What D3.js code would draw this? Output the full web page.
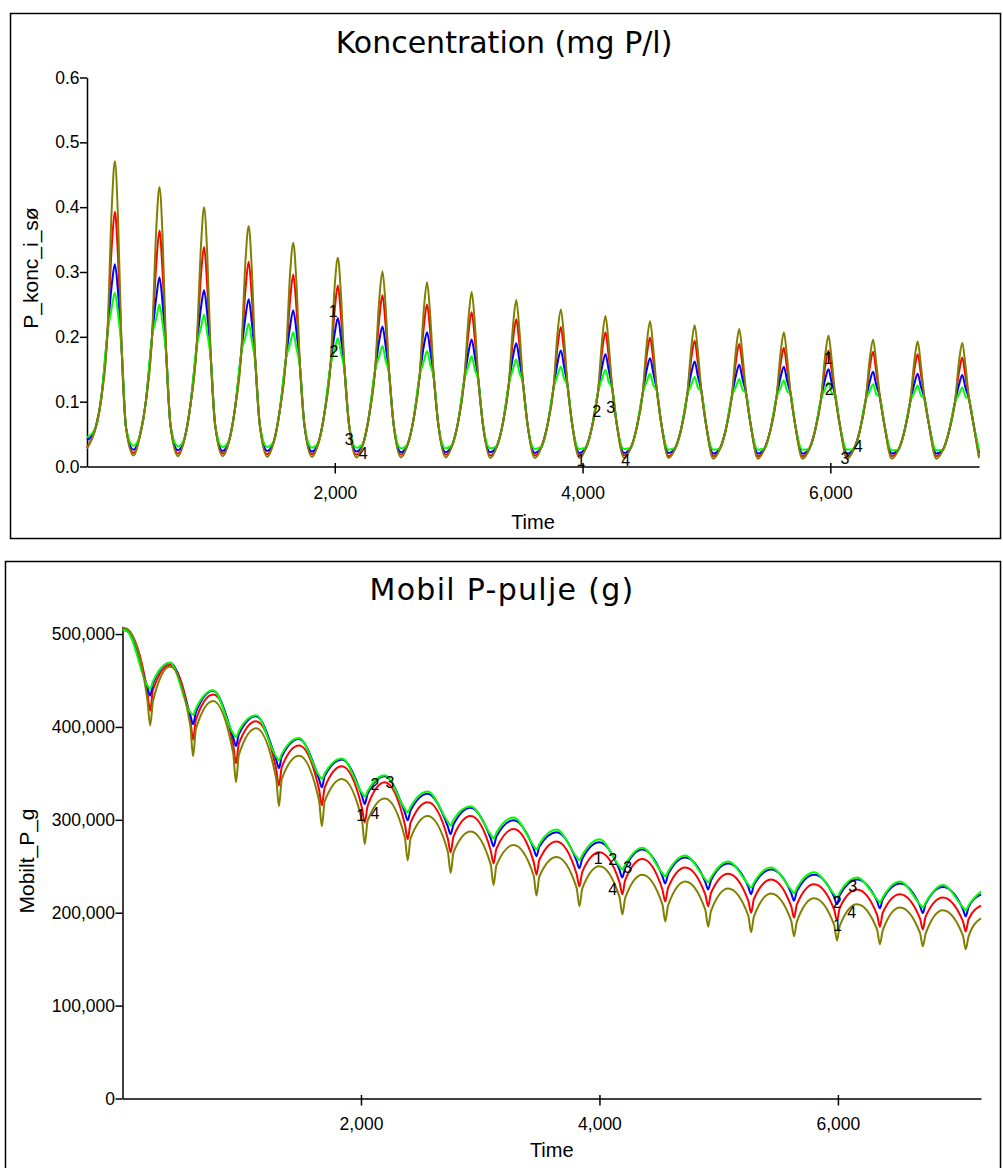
<!DOCTYPE html>
<html>
<head>
<meta charset="utf-8">
<script src="https://cdn.jsdelivr.net/npm/d3@7"></script>
<style>
  body { margin: 0; background: #fff; }
  text { font-family: "Liberation Sans", Arial, sans-serif; }
</style>
</head>
<body>
<svg width="1003" height="1168"></svg>
<script>
var svg = d3.select('svg');

var seriesColors = ['#ff0000', '#0000ff', '#00ff00', '#808000'];
var seriesNames = ['1', '2', '3', '4'];
var years = d3.range(20);   // simulation runs 20 years of 360 days

// ---------- Koncentration (mg P/l) ----------
// troughs: t=0, then early in each year, then t=7200
var concTrough1 = [0.030, 0.021, 0.020, 0.020, 0.019, 0.019, 0.018, 0.018, 0.018, 0.017, 0.017, 0.017, 0.017, 0.016, 0.016, 0.016, 0.016, 0.016, 0.016, 0.016, 0.016];
var concTrough2 = [0.040, 0.026, 0.025, 0.024, 0.024, 0.023, 0.023, 0.022, 0.022, 0.022, 0.021, 0.021, 0.021, 0.021, 0.020, 0.020, 0.020, 0.020, 0.020, 0.020, 0.021];
var concTrough3 = [0.045, 0.032, 0.031, 0.030, 0.030, 0.029, 0.029, 0.028, 0.028, 0.028, 0.027, 0.027, 0.027, 0.026, 0.026, 0.026, 0.026, 0.026, 0.025, 0.025, 0.026];
var concTrough4 = [0.028, 0.017, 0.016, 0.016, 0.015, 0.015, 0.014, 0.014, 0.014, 0.013, 0.013, 0.013, 0.013, 0.013, 0.012, 0.012, 0.012, 0.012, 0.012, 0.012, 0.013];

// flanks where the four runs lie on top of each other
var concRise70  = [0.060, 0.050, 0.045, 0.042, 0.040, 0.038, 0.036, 0.035, 0.034, 0.032, 0.031, 0.030, 0.029, 0.029, 0.028, 0.028, 0.027, 0.027, 0.026, 0.026];
var concRise115 = [0.105, 0.100, 0.095, 0.090, 0.085, 0.080, 0.076, 0.072, 0.068, 0.065, 0.062, 0.060, 0.058, 0.057, 0.056, 0.055, 0.054, 0.053, 0.052, 0.052];
var concRise165 = [0.205, 0.200, 0.185, 0.175, 0.165, 0.155, 0.148, 0.140, 0.133, 0.127, 0.120, 0.115, 0.112, 0.110, 0.108, 0.106, 0.104, 0.102, 0.100, 0.098];
var concFall280 = [0.180, 0.172, 0.165, 0.158, 0.152, 0.146, 0.141, 0.136, 0.131, 0.127, 0.123, 0.120, 0.117, 0.115, 0.113, 0.111, 0.109, 0.107, 0.105, 0.104];
var concFall315 = [0.060, 0.062, 0.063, 0.064, 0.064, 0.065, 0.065, 0.066, 0.066, 0.066, 0.067, 0.067, 0.067, 0.067, 0.067, 0.066, 0.066, 0.066, 0.066, 0.066];

// around the yearly peak
var concPre1  = [0.340, 0.315, 0.295, 0.275, 0.258, 0.243, 0.230, 0.218, 0.208, 0.198, 0.188, 0.181, 0.174, 0.170, 0.165, 0.160, 0.157, 0.155, 0.151, 0.147];
var concPeak1 = [0.393, 0.364, 0.339, 0.316, 0.296, 0.279, 0.264, 0.250, 0.238, 0.227, 0.215, 0.207, 0.199, 0.194, 0.189, 0.183, 0.179, 0.177, 0.173, 0.168];
var concPost1 = [0.325, 0.300, 0.280, 0.262, 0.246, 0.232, 0.219, 0.208, 0.198, 0.189, 0.179, 0.172, 0.166, 0.161, 0.157, 0.152, 0.149, 0.147, 0.144, 0.140];

var concPre2  = [0.280, 0.262, 0.245, 0.232, 0.217, 0.206, 0.195, 0.187, 0.177, 0.171, 0.162, 0.156, 0.151, 0.146, 0.142, 0.139, 0.136, 0.132, 0.129, 0.127];
var concPeak2 = [0.312, 0.292, 0.272, 0.258, 0.241, 0.229, 0.216, 0.207, 0.196, 0.190, 0.179, 0.173, 0.167, 0.162, 0.157, 0.154, 0.150, 0.146, 0.143, 0.141];
var concPost2 = [0.270, 0.252, 0.236, 0.223, 0.209, 0.198, 0.187, 0.179, 0.170, 0.164, 0.155, 0.150, 0.145, 0.140, 0.136, 0.133, 0.130, 0.126, 0.124, 0.122];

var concPre3  = [0.245, 0.229, 0.214, 0.201, 0.190, 0.181, 0.171, 0.163, 0.156, 0.151, 0.142, 0.137, 0.132, 0.127, 0.124, 0.122, 0.120, 0.117, 0.115, 0.112];
var concPeak3 = [0.268, 0.250, 0.234, 0.220, 0.207, 0.198, 0.186, 0.178, 0.170, 0.165, 0.154, 0.149, 0.143, 0.138, 0.135, 0.133, 0.130, 0.127, 0.125, 0.122];
var concPost3 = [0.236, 0.220, 0.206, 0.194, 0.183, 0.175, 0.164, 0.157, 0.150, 0.145, 0.136, 0.131, 0.126, 0.122, 0.119, 0.117, 0.114, 0.112, 0.110, 0.108];

var concPre4  = [0.400, 0.370, 0.340, 0.320, 0.300, 0.280, 0.260, 0.245, 0.230, 0.220, 0.210, 0.200, 0.193, 0.188, 0.183, 0.178, 0.174, 0.169, 0.166, 0.164];
var concPeak4 = [0.471, 0.431, 0.400, 0.371, 0.345, 0.322, 0.301, 0.284, 0.269, 0.257, 0.242, 0.232, 0.224, 0.218, 0.212, 0.207, 0.202, 0.196, 0.193, 0.191];
var concPost4 = [0.385, 0.355, 0.330, 0.305, 0.285, 0.265, 0.248, 0.234, 0.222, 0.211, 0.200, 0.191, 0.184, 0.179, 0.174, 0.170, 0.166, 0.161, 0.158, 0.157];

var concTicks = [0, 0.1, 0.2, 0.3, 0.4, 0.5, 0.6];
var concLabelTime  = [[1988, 3987, 5983], [1994, 4114, 5991], [2117, 4227, 6118], [2230, 4348, 6225]];
var concLabelValue = [[0.239, 0.010, 0.167], [0.177, 0.085, 0.118], [0.041, 0.091, 0.013], [0.020, 0.010, 0.031]];

// ---------- Mobil P-pulje (thousand g) ----------
var poolStart = [505, 504.5, 504.5, 507];
var poolEnd = [207.7, 219.8, 222.8, 194];

var poolHump1 = [504, 467, 435, 406, 380, 357.7, 340.5, 319, 304, 290, 276.7, 265, 257.7, 248.7, 242, 235.8, 230.6, 225, 219.8, 216.4];
var poolPre1  = [438, 408, 381, 355, 333, 313, 295, 280, 267, 255, 242, 233, 225, 219.5, 213, 207, 203.5, 198, 194, 191];
var poolDip1  = [417.5, 386.3, 361, 337, 315.5, 297, 279, 265, 253, 241, 228.4, 219.8, 212, 207, 200, 194.8, 191.8, 185, 182, 179.7];
var poolPost1 = [440, 408, 382, 357, 335, 315, 297, 282, 269, 257, 244, 235, 227, 221.5, 215, 209, 205.5, 200, 196, 193];

var poolHump2 = [503, 469, 439, 411.5, 387, 365, 347, 328, 313, 299.5, 286.6, 275.8, 268, 259.5, 253, 246.5, 241, 235.8, 231.5, 227.6];
var poolPre2  = [443, 413, 389, 365, 344, 326, 308, 293, 280, 269, 256, 246, 239.5, 233, 228, 221, 217, 212.5, 207.5, 204];
var poolDip2  = [433.5, 403, 379.5, 355.6, 335, 317, 299.5, 284.5, 271.5, 260.8, 247.8, 238, 231.5, 225, 220, 213, 209, 204.7, 199.6, 196];
var poolPost2 = [447, 416, 392, 368, 347, 328, 310, 295, 282, 271, 258, 248, 241.5, 235, 230, 223, 219, 214.5, 209.5, 206];

var poolHump3 = [503, 469, 439.6, 412.5, 388, 366, 348, 330.6, 314.6, 302.6, 289.6, 279, 270, 261.6, 255, 248.7, 243.5, 238, 233.6, 229.7];
var poolPre3  = [445, 416, 393, 368, 348, 329, 312, 298, 284, 272, 260, 250, 242.5, 236, 230.5, 224.5, 220, 214.5, 209, 206];
var poolDip3  = [441, 413, 389, 364, 344, 325, 308, 294, 280, 268, 256.4, 246.5, 239, 232.7, 227, 220.7, 216.4, 211, 205.6, 202.6];
var poolPost3 = [449, 420, 396, 371, 350, 331, 314, 300, 286, 274, 262, 252, 244.5, 238, 232.5, 226.5, 222, 216.5, 211, 208];

var poolHump4 = [505.5, 465, 428, 398.7, 369, 344, 323, 304, 287.5, 272.8, 260, 250, 241, 233.6, 226, 220.7, 215.5, 209, 205.6, 202.6];
var poolPre4  = [430, 402, 372, 345, 321, 300, 281, 266, 252, 240, 227, 217, 209, 203, 197, 191.5, 187, 182, 178.5, 175.5];
var poolDip4  = [401.5, 368.5, 340.3, 314.6, 293, 273.7, 256.4, 242.7, 229.7, 218.5, 206.9, 198, 190.5, 185, 179, 174.6, 170, 166, 163.8, 160.8];
var poolPost4 = [428, 398, 370, 344, 320, 299, 280, 265, 251, 239, 226, 216, 208, 202, 196, 190.5, 186, 181, 177.5, 174.5];

var poolTicks = [0, 100, 200, 300, 400, 500];
var poolLabelTime  = [[1997, 3990, 5997], [2117, 4111, 5994], [2243, 4236, 6123], [2117, 4111, 6115]];
var poolLabelValue = [[304.6, 258.4, 186.4], [338.2, 257.6, 211.1], [340.4, 248.5, 228.3], [306.8, 224.9, 200.3]];

var timeTicks = [2000, 4000, 6000];

// ---------- build point lists ----------
var concTrough = [concTrough1, concTrough2, concTrough3, concTrough4];
var concPre = [concPre1, concPre2, concPre3, concPre4];
var concPeak = [concPeak1, concPeak2, concPeak3, concPeak4];
var concPost = [concPost1, concPost2, concPost3, concPost4];

function concPoints(s) {
  var pts = [[0, concTrough[s][0]]];
  years.forEach(function(k) {
    var b = 360 * k;
    if (k > 0) pts.push([b + 15, concTrough[s][k]]);
    pts.push([b + 70, concRise70[k]]);
    pts.push([b + 115, concRise115[k]]);
    pts.push([b + 165, concRise165[k]]);
    pts.push([b + 200, concPre[s][k]]);
    pts.push([b + 225, concPeak[s][k]]);
    pts.push([b + 250, concPost[s][k]]);
    pts.push([b + 280, concFall280[k]]);
    pts.push([b + 315, concFall315[k]]);
  });
  pts.push([7200, concTrough[s][20]]);
  return pts;
}

var poolHump = [poolHump1, poolHump2, poolHump3, poolHump4];
var poolPre = [poolPre1, poolPre2, poolPre3, poolPre4];
var poolDip = [poolDip1, poolDip2, poolDip3, poolDip4];
var poolPost = [poolPost1, poolPost2, poolPost3, poolPost4];

function poolPoints(s) {
  var pts = [[0, poolStart[s]]];
  years.forEach(function(k) {
    var b = 360 * k;
    pts.push([b + 40, poolHump[s][k]]);
    pts.push([b + 208, poolPre[s][k]]);
    pts.push([b + 232, poolDip[s][k]]);
    pts.push([b + 256, poolPost[s][k]]);
  });
  pts.push([7200, poolEnd[s]]);
  return pts;
}

// ---------- panels ----------
svg.append('rect')
    .attr('x', 10.5).attr('y', 13.5)
    .attr('width', 990).attr('height', 525)
    .style('fill', 'none').style('stroke', '#000').style('stroke-width', 1.5);

svg.append('rect')
    .attr('x', 5.5).attr('y', 561.5)
    .attr('width', 995).attr('height', 620)
    .style('fill', 'none').style('stroke', '#000').style('stroke-width', 1.5);

function drawChart(o) {
  var g = svg.append('g');

  var gy = g.append('g')
      .attr('transform', 'translate(' + o.x.range()[0] + ',0)')
      .call(d3.axisLeft(o.y).tickValues(o.yTicks).tickFormat(o.yFormat)
        .tickSize(7).tickSizeOuter(0).tickPadding(0.5));

  var gx = g.append('g')
      .attr('transform', 'translate(0,' + o.y(0) + ')')
      .call(d3.axisBottom(o.x).tickValues(timeTicks).tickFormat(d3.format(','))
        .tickSize(7).tickSizeOuter(0));
  gx.selectAll('.tick line').attr('y1', -3.5);
  gx.selectAll('.tick text').attr('dy', null).attr('y', o.xLabelOffset);

  [gx, gy].forEach(function(a) {
    a.attr('font-size', 17.5).attr('font-family', '"Liberation Sans", Arial, sans-serif');
    a.select('.domain').attr('stroke', '#000').attr('stroke-width', 1.5);
    a.selectAll('.tick line').attr('stroke', '#000').attr('stroke-width', 1.5);
    a.selectAll('.tick text').attr('fill', '#000');
  });

  var line = d3.line()
      .x(function(d) { return o.x(d[0]); })
      .y(function(d) { return o.y(d[1]); })
      .curve(d3.curveMonotoneX);

  [0, 1, 2, 3].forEach(function(s) {
    g.append('path')
        .attr('d', line(o.points(s)))
        .style('fill', 'none')
        .style('stroke', seriesColors[s])
        .style('stroke-width', 2);
  });

  [0, 1, 2, 3].forEach(function(s) {
    o.labelTime[s].forEach(function(t, i) {
      g.append('text')
          .attr('x', o.x(t))
          .attr('y', o.y(o.labelValue[s][i]))
          .attr('text-anchor', 'middle')
          .attr('dominant-baseline', 'central')
          .style('font-size', '16px')
          .style('fill', '#000')
          .text(seriesNames[s]);
    });
  });

  g.append('text')
      .attr('x', o.titleX).attr('y', o.titleY)
      .attr('text-anchor', 'middle')
      .style('font-family', '"DejaVu Sans", Verdana, sans-serif')
      .style('font-size', '30px')
      .style('letter-spacing', o.titleSpacing + 'px')
      .text(o.title);

  g.append('text')
      .attr('transform', 'translate(' + o.yTitleX + ',' + o.yTitleY + ') rotate(-90)')
      .attr('text-anchor', 'middle')
      .style('font-size', '21px')
      .text(o.yTitle);

  var xr = o.x.range();
  g.append('text')
      .attr('x', (xr[0] + xr[1]) / 2).attr('y', o.timeY)
      .attr('text-anchor', 'middle')
      .style('font-size', '20px')
      .text('Time');
}

drawChart({
  x: d3.scaleLinear().domain([0, 7200]).range([87, 979]),
  y: d3.scaleLinear().domain([0, 0.6]).range([466.5, 77.5]),
  yTicks: concTicks,
  yFormat: d3.format('.1f'),
  xLabelOffset: 32,
  points: concPoints,
  labelTime: concLabelTime,
  labelValue: concLabelValue,
  title: 'Koncentration (mg P/l)',
  titleX: 504, titleY: 53, titleSpacing: 0,
  yTitle: 'P_konc_i_sø', yTitleX: 38, yTitleY: 268,
  timeY: 529
});

drawChart({
  x: d3.scaleLinear().domain([0, 7200]).range([122.5, 981]),
  y: d3.scaleLinear().domain([0, 508]).range([1098.5, 626.6]),
  yTicks: poolTicks,
  yFormat: function(d) { return d3.format(',')(d * 1000); },
  xLabelOffset: 31.5,
  points: poolPoints,
  labelTime: poolLabelTime,
  labelValue: poolLabelValue,
  title: 'Mobil P-pulje (g)',
  titleX: 502, titleY: 600, titleSpacing: 1.3,
  yTitle: 'Mobilt_P_g', yTitleX: 34, yTitleY: 861,
  timeY: 1157
});
</script>
</body>
</html>
